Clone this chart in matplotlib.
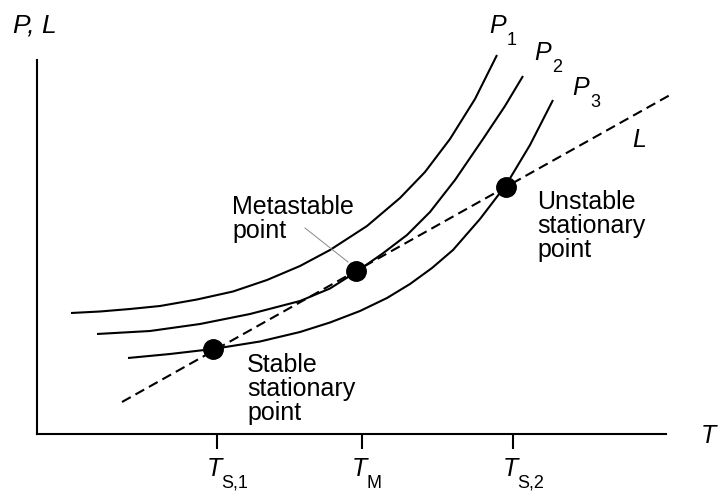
import matplotlib
matplotlib.use("Agg")
import matplotlib.pyplot as plt

plt.rcParams['font.family'] = ['Liberation Sans', 'DejaVu Sans']

# curves (schematic units, origin at the axes corner)
p1_T = [34, 63, 93, 123, 160, 196, 230, 263, 293, 330, 363, 388, 413, 438, 460]
p1_P = [121, 122.5, 125, 128, 134.5, 142.5, 154, 168, 184, 208, 236, 262, 295, 335, 379]

p2_T = [60, 113, 163, 213, 263, 293, 319, 345, 370, 393, 418, 446, 468, 486]
p2_P = [100, 103, 110, 120, 133, 145.5, 162, 180, 199, 222, 254, 295, 328, 358]

p3_T = [91, 133, 176, 223, 263, 293, 323, 350, 373, 395, 416, 443, 469, 493, 516]
p3_P = [76, 80, 85, 92.5, 102, 111.5, 123, 136, 150, 166, 184, 215, 249, 289, 334]

L_T = [85, 633]
L_P = [32, 339]

# stationary points
pts_T = [176, 319, 469]
pts_P = [85, 163, 247]

tick_pos = [180, 325, 476]
tick_subs = ['S,1', 'M', 'S,2']

fig = plt.figure(figsize=(7.18, 5), dpi=100)
ax = fig.add_axes([37/718, 66/500, 629/718, 374/500])
ax.set_xlim(0, 629)
ax.set_ylim(0, 374)

for T, P in [(p1_T, p1_P), (p2_T, p2_P), (p3_T, p3_P)]:
    ax.plot(T, P, color='black', lw=1.5, clip_on=False,
            solid_joinstyle='round', solid_capstyle='butt')
ax.plot(L_T, L_P, color='black', lw=1.5, dashes=(4.8, 2.6), clip_on=False)
ax.plot(pts_T, pts_P, 'o', color='black', ms=14, clip_on=False, zorder=5)

# leader line for the metastable point
ax.plot([268, 311], [206, 172], color='#888888', lw=0.7)

for s in ['top', 'right']:
    ax.spines[s].set_visible(False)
for s in ['left', 'bottom']:
    ax.spines[s].set_linewidth(1.5)
ax.set_yticks([])
ax.set_xticks(tick_pos, ['', '', ''])
ax.tick_params(axis='x', direction='out', length=11, width=1.5)

fs = 18
sub_fs = 13


def sym(x, y, main, sub):
    # italic symbol with an upright subscript set well below the baseline
    ax.text(x, y, main, fontsize=fs, style='italic', va='baseline', clip_on=False)
    ax.text(x + 18, y - 12, sub, fontsize=sub_fs, va='baseline', clip_on=False)


for t, s in zip(tick_pos, tick_subs):
    ax.text(t - 10, -42, 'T', fontsize=fs, style='italic', va='baseline', clip_on=False)
    ax.text(t + 4, -54, s, fontsize=sub_fs, va='baseline', clip_on=False)

sym(452, 401, 'P', '1')
sym(497, 374, 'P', '2')
sym(535, 339, 'P', '3')

ax.text(-24, 402, 'P, L', fontsize=19, style='italic', va='baseline', clip_on=False)
ax.text(595, 287, 'L', fontsize=fs, style='italic', va='baseline')
ax.text(664, -9, 'T', fontsize=fs, style='italic', va='baseline', clip_on=False)

ax.text(500, 244, 'Unstable\nstationary\npoint', fontsize=fs, va='top', linespacing=1.0)
ax.text(210, 81, 'Stable\nstationary\npoint', fontsize=fs, va='top', linespacing=1.0)
ax.text(195, 239, 'Metastable\npoint', fontsize=fs, va='top', linespacing=1.0)

fig.savefig('out.png', dpi=100)
